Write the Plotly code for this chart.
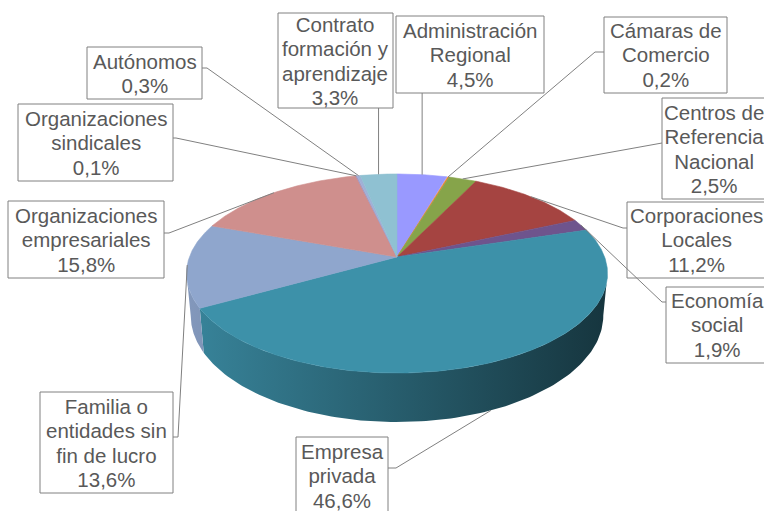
import numpy as np
import plotly.graph_objects as go

# ---------------- data ----------------
categories = ["Administración Regional", "Cámaras de Comercio", "Centros de Referencia Nacional",
              "Corporaciones Locales", "Economía social", "Empresa privada",
              "Familia o entidades sin fin de lucro", "Organizaciones empresariales",
              "Organizaciones sindicales", "Autónomos", "Contrato formación y aprendizaje"]
label_lines = [["Administración", "Regional"], ["Cámaras de", "Comercio"],
               ["Centros de", "Referencia", "Nacional"], ["Corporaciones", "Locales"],
               ["Economía", "social"], ["Empresa", "privada"],
               ["Familia o", "entidades sin", "fin de lucro"], ["Organizaciones", "empresariales"],
               ["Organizaciones", "sindicales"], ["Autónomos"], ["Contrato", "formación y", "aprendizaje"]]
values = [4.5, 0.2, 2.5, 11.2, 1.9, 46.6, 13.6, 15.8, 0.1, 0.3, 3.3]

# ---------------- styles ----------------
colors = ["#9999FF", "#E67E30", "#86A44A", "#A54441", "#6E548D", "#3D91A9",
          "#8FA6CD", "#CF8F8D", "#A393C0", "#9FB1D6", "#8FC1D2"]
# label boxes (x0, y0, x1, y1) in pixels
boxes = [(396, 16, 544, 93), (604, 17, 727, 93), (662, 98, 766, 199),
         (627, 202, 766, 278), (666, 287, 768, 363), (296, 437, 388, 514),
         (40, 392, 173, 493), (8, 201, 164, 278), (18, 104, 173, 181),
         (87, 47, 202, 99), (278, 13, 393, 108)]
# leader routes after the anchor point ("v" => vertical to box edge)
routes = [[("v", 93)], [(595, 52), (604, 52)], [(662, 143)],
          [(623, 228), (627, 228)], [(662, 302), (666, 302)], [(396, 468), (388, 468)],
          [(178, 437), (173, 437)], [(169, 233), (164, 233)], [(176, 138), (173, 138)],
          [(207, 68), (202, 68)], [("v", 108)]]
anchor_bottom = [False, False, False, False, False, True, False, False, False, False, False]

CX, CY = 397.0, 257.0
A, B, P = 207.6, 96.8, 0.1658
H = 40.9
BS = 0.98

def top_pt(theta_deg):
    t = np.radians(theta_deg)
    u, v = np.sin(t), -np.cos(t)
    d = 1 - P * v
    return CX + A * u / d, CY + B * v / d

def bot_pt(theta_deg):
    x, y = top_pt(theta_deg)
    t = np.radians(theta_deg)
    d = 1 + P * np.cos(t)
    return CX + (x - CX) * BS, y + H / d

def hex2rgb(h):
    h = h.lstrip("#")
    return tuple(int(h[i:i + 2], 16) for i in (0, 2, 4))

def shade(hexc, f):
    r, g, b = hex2rgb(hexc)
    return "rgb(%d,%d,%d)" % (r * f, g * f, b * f)

def shade_at(x):
    # lighter on the left, darker on the right
    return 0.92 - (x - 187) / (608 - 187) * 0.55

total = sum(values)
cum = np.concatenate([[0], np.cumsum(values)]) / total * 360.0
t_lo = np.degrees(np.arccos(-P))
t_hi = 360 - t_lo

fig = go.Figure()

# side walls
for i, c in enumerate(colors):
    a0, a1 = max(cum[i], t_lo), min(cum[i + 1], t_hi)
    if a1 <= a0:
        continue
    th = np.linspace(a0, a1, 120)
    tx, ty = zip(*[top_pt(t) for t in th])
    bx, by = zip(*[bot_pt(t) for t in th[::-1]])
    xs = list(tx) + list(bx)
    ys = list(ty) + list(by)
    xmin, xmax = min(xs), max(xs)
    fig.add_trace(go.Scatter(
        x=xs + [xs[0]], y=ys + [ys[0]], mode="lines", fill="toself",
        line=dict(width=0, color=shade(c, shade_at((xmin + xmax) / 2))),
        fillgradient=dict(type="horizontal",
                          colorscale=[[0, shade(c, shade_at(xmin))], [1, shade(c, shade_at(xmax))]]),
        hoverinfo="skip", showlegend=False))

# top faces
for i, c in enumerate(colors):
    n = max(4, int((cum[i + 1] - cum[i]) * 2))
    th = np.linspace(cum[i], cum[i + 1], n)
    pts = [top_pt(t) for t in th]
    xs = [CX] + [p[0] for p in pts] + [CX]
    ys = [CY] + [p[1] for p in pts] + [CY]
    fig.add_trace(go.Scatter(
        x=xs, y=ys, mode="lines", fill="toself", fillcolor=c,
        line=dict(width=0.6, color=c), hoverinfo="skip", showlegend=False,
        name=categories[i]))

shapes = []
annotations = []
for i, lines in enumerate(label_lines):
    mid = (cum[i] + cum[i + 1]) / 2
    ax, ay = bot_pt(mid) if anchor_bottom[i] else top_pt(mid)
    path = "M %.2f %.2f" % (ax, ay)
    for px, py in routes[i]:
        if px == "v":
            path += " L %.2f %.2f" % (ax, py)
        else:
            path += " L %.2f %.2f" % (px, py)
    shapes.append(dict(type="path", path=path, xref="x", yref="y",
                       line=dict(color="#808080", width=1)))
    x0, y0, x1, y1 = boxes[i]
    shapes.append(dict(type="rect", x0=x0, y0=y0, x1=x1, y1=y1, xref="x", yref="y",
                       line=dict(color="#808080", width=1), fillcolor="white"))
    pct = ("%.1f%%" % values[i]).replace(".", ",")
    txt = "<br>".join("<span style='font-size:20.5px'>%s</span>" % s for s in lines + [pct])
    annotations.append(dict(x=(x0 + x1) / 2, y=(y0 + y1) / 2, xref="x", yref="y",
                            text=txt, showarrow=False,
                            xanchor="center", yanchor="middle", align="center",
                            font=dict(family="Liberation Sans, Arial, sans-serif",
                                      size=18.7, color="#595959")))

fig.update_layout(
    width=764, height=511, margin=dict(l=0, r=0, t=0, b=0),
    paper_bgcolor="white", plot_bgcolor="white", showlegend=False,
    xaxis=dict(range=[0, 764], visible=False, fixedrange=True),
    yaxis=dict(range=[511, 0], visible=False, fixedrange=True),
    shapes=shapes, annotations=annotations)

fig.write_html("out.html", config={"displayModeBar": False},
               post_script="document.body.style.margin='0';document.body.style.overflow='hidden';")
